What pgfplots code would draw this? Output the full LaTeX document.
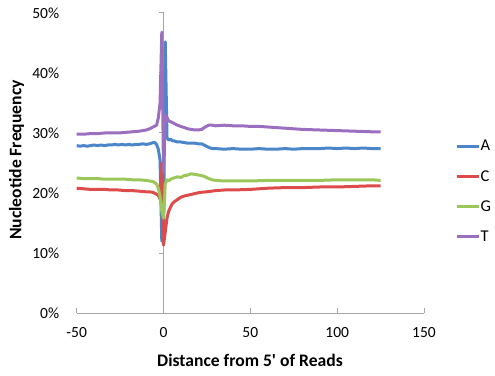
\documentclass[border=0pt]{standalone}
\usepackage{fontspec}
\setmainfont{Carlito}
\usepackage{pgfplots}
\pgfplotsset{compat=1.18}
\definecolor{cA}{HTML}{4A86C8}
\definecolor{cC}{HTML}{DD4B4B}
\definecolor{cG}{HTML}{9BC65A}
\definecolor{cT}{HTML}{9B6FBF}
\definecolor{axgray}{HTML}{A6A6A6}
\begin{document}
\begin{tikzpicture}
\begin{axis}[
  scale only axis, width=347.3bp, height=300bp,
  xmin=-50, xmax=150, ymin=0, ymax=50,
  axis x line*=bottom, axis y line*=left,
  x axis line style={draw=axgray, line width=1bp, -},
  y axis line style={draw=none},
  xtick={-50,0,50,100,150},
  xticklabels={-50,0,50,100,150},
  ytick={0,10,20,30,40,50},
  yticklabels={0\%,10\%,20\%,30\%,40\%,50\%},
  xtick align=inside,
  xtick style={draw=axgray, line width=1bp},
  ytick style={draw=none},
  major tick length=5bp,
  tick label style={font=\fontsize{15.5bp}{18bp}\selectfont},
  xticklabel style={yshift=-11bp},
  yticklabel style={anchor=east, xshift=-14bp},
  xlabel={Distance from 5\textquotesingle{} of Reads},
  ylabel={Nucleotide Frequency},
  label style={font=\bfseries\fontsize{17.6bp}{20bp}\selectfont},
  xlabel style={at={(axis description cs:0.499,-0.1567)}, anchor=center},
  ylabel style={at={(axis description cs:-0.1728,0.51)}, anchor=center},
  legend style={draw=none, fill=none, inner sep=0pt,
    at={(axis description cs:1.089,0.583)}, anchor=north west,
    font=\fontsize{16.5bp}{19bp}\selectfont, row sep=14bp,
    nodes={inner xsep=0.5bp}},
  legend cell align=left,
  legend image code/.code={\draw[#1, line width=3bp] (0bp,0bp) -- (22bp,0bp);},
  every axis plot/.append style={line width=3bp, line join=round, no marks},
  clip=false,
]
\coordinate (o) at (axis cs:-50,0);
\draw[axgray, line width=1bp] (axis cs:0,0) -- (axis cs:0,50);
\pgfplotsinvokeforeach{0,10,20,30,40,50}{\draw[axgray, line width=1bp] (axis cs:0,#1) -- ([xshift=-5bp]axis cs:0,#1);}
\addplot[cA] coordinates {
(-50,27.9)(-48,27.8)(-46,27.9)(-44,27.8)(-42,27.9)(-40,28.0)(-38,27.9)(-36,28.0)(-34,27.9)(-32,28.0)
(-30,28.0)(-28,28.1)(-26,28.0)(-24,28.1)(-22,28.0)(-20,28.1)(-18,28.0)(-16,28.1)(-14,28.1)(-12,28.2)
(-10,28.1)(-8,28.2)(-6,28.4)(-5,28.4)(-4,28.1)(-3,27.3)(-2,25.5)(-1,12.0)(0,12.5)(1,45.2)(2,29.2)
(3,28.8)(4,29.0)(5,28.7)(6,28.7)(8,28.5)(10,28.5)(12,28.4)(14,28.3)(16,28.3)(18,28.3)(20,28.2)
(22,28.2)(24,27.9)(26,27.6)(28,27.4)(30,27.4)(35,27.3)(40,27.4)(45,27.3)(50,27.3)(55,27.4)(60,27.3)
(65,27.3)(70,27.4)(75,27.3)(80,27.4)(85,27.4)(90,27.4)(95,27.5)(100,27.4)(105,27.5)(110,27.4)
(115,27.5)(120,27.4)(125,27.4)};
\addlegendentry{A}
\addplot[cC] coordinates {
(-50,20.8)(-46,20.7)(-42,20.6)(-38,20.6)(-34,20.6)(-30,20.5)(-26,20.5)(-22,20.4)(-18,20.4)(-14,20.3)
(-10,20.2)(-8,20.2)(-6,20.1)(-4,19.8)(-3,19.6)(-2,19.0)(-1,25.0)(0,11.3)(1,13.5)(2,15.8)(3,17.0)
(4,17.6)(5,18.2)(6,18.5)(8,18.9)(10,19.3)(12,19.5)(15,19.7)(18,19.9)(21,20.1)(25,20.2)(30,20.4)
(35,20.5)(40,20.5)(50,20.6)(60,20.8)(70,20.9)(80,20.9)(90,21.0)(100,21.0)(110,21.1)(120,21.2)(125,21.2)};
\addlegendentry{C}
\addplot[cG] coordinates {
(-50,22.5)(-46,22.4)(-42,22.4)(-38,22.4)(-34,22.3)(-30,22.3)(-26,22.3)(-22,22.3)(-18,22.2)(-14,22.2)
(-10,22.1)(-8,22.0)(-6,21.9)(-4,21.5)(-3,20.8)(-2,19.5)(-1,17.0)(0,15.8)(1,21.5)(2,22.2)(3,22.0)
(4,22.3)(6,22.5)(8,22.7)(10,22.6)(12,22.9)(14,23.0)(16,23.2)(18,23.1)(20,23.0)(22,22.9)(24,22.7)
(26,22.4)(28,22.2)(30,22.1)(35,22.0)(40,22.0)(50,22.0)(60,22.1)(70,22.1)(80,22.1)(90,22.1)
(100,22.2)(110,22.2)(120,22.2)(125,22.1)};
\addlegendentry{G}
\addplot[cT] coordinates {
(-50,29.8)(-46,29.8)(-42,29.9)(-38,29.9)(-34,30.0)(-30,30.0)(-26,30.0)(-22,30.1)(-18,30.2)(-14,30.3)
(-10,30.5)(-8,30.7)(-6,31.0)(-4,31.3)(-3,32.5)(-2,35.0)(-1,46.8)(0,23.5)(1,33.0)(2,32.6)(3,32.0)
(4,31.9)(6,31.6)(8,31.3)(10,31.1)(12,30.9)(14,30.7)(16,30.6)(18,30.5)(20,30.5)(22,30.6)(24,31.0)
(26,31.3)(28,31.3)(30,31.2)(35,31.3)(40,31.2)(45,31.2)(50,31.1)(55,31.1)(60,31.0)(70,30.8)
(80,30.6)(90,30.5)(100,30.4)(110,30.3)(120,30.2)(125,30.2)};
\addlegendentry{T}
\end{axis}
\pgfresetboundingbox
\path[use as bounding box] (o) ++(-76.7bp,-63bp) rectangle ++(495bp,376bp);
\end{tikzpicture}
\end{document}
